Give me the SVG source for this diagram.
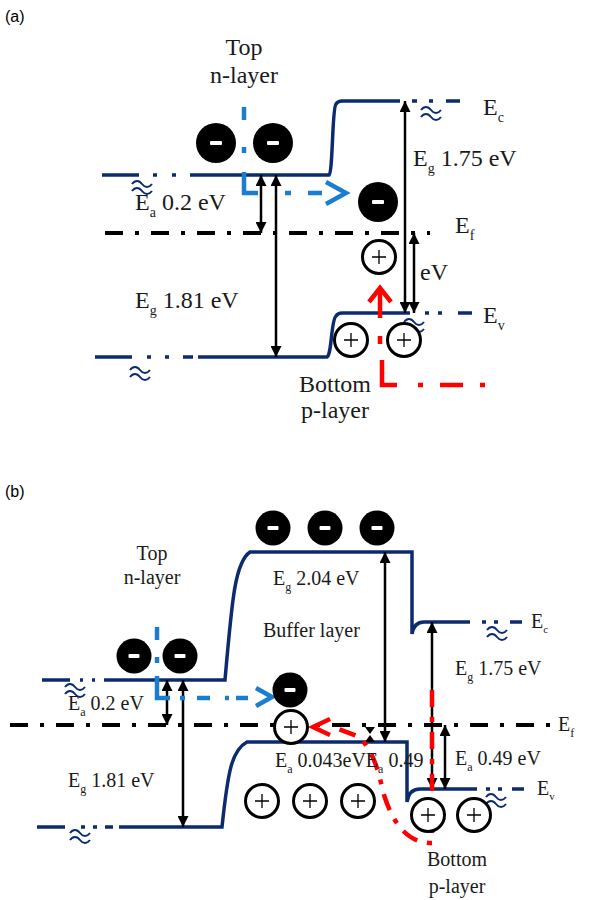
<svg xmlns="http://www.w3.org/2000/svg" xmlns:xlink="http://www.w3.org/1999/xlink" width="589" height="900" viewBox="0 0 589 900">
<style>
.band{fill:none;stroke:#0b2b6e;stroke-width:3.5}
.brk{fill:none;stroke:#0b2b6e;stroke-width:2}
.ef{fill:none;stroke:#000;stroke-width:4;stroke-dasharray:18 12 4 12}
.arr{fill:none;stroke:#000;stroke-width:2.5;marker-start:url(#ah);marker-end:url(#ah)}
.blue{fill:none;stroke:#1b7dd0;stroke-width:4.5}
.red{fill:none;stroke:#ff0000;stroke-width:4.5}
.ta{font-family:"Liberation Serif","Times New Roman",serif;font-size:24px;fill:#1a1a1a}
.tb{font-family:"Liberation Serif","Times New Roman",serif;font-size:20px;fill:#1a1a1a}
.lab{font-family:"Liberation Sans",Arial,sans-serif;font-size:16px;fill:#000}
.mid{text-anchor:middle}
</style>
<defs>
<marker id="ah" viewBox="0 0 10 10" refX="10" refY="5" markerWidth="11" markerHeight="11" markerUnits="userSpaceOnUse" orient="auto-start-reverse"><path d="M0,0 L10,5 L0,10 z" fill="#000"/></marker>
<g id="wave"><path class="brk" d="M-10,-2 c3,-4 7,-4 10,0 s7,4 10,0 M-10,5 c3,-4 7,-4 10,0 s7,4 10,0"/></g>
<g id="el"><circle r="20" fill="#000"/><rect x="-6" y="-2" width="12" height="4" rx="1" fill="#fff"/></g>
<g id="elb"><circle r="17.5" fill="#000"/><rect x="-5.5" y="-2" width="11" height="4" rx="1" fill="#fff"/></g>
<g id="ho"><circle r="16.5" fill="#fff" stroke="#000" stroke-width="3"/><path d="M-7,0 H7 M0,-7 V7" stroke="#000" stroke-width="1.3"/></g>
</defs>

<text class="lab" x="5" y="22">(a)</text>
<text class="lab" x="5" y="497">(b)</text>

<!-- Panel (a) bands -->
<g id="a-bands">
<path class="band" d="M102,175 H139 M153,175 H157 M172,175 H176 M190,175 H329 C333,172 332,108 336,104 Q338,101 342,101 H400 M412,101 H417 M429,101 H433 M446,101 H460"/>
<path class="band" d="M95,357 H132 M147,357 H151 M165,357 H169 M183,357 H193 M198,357 H327 C332,354 331,320 336,316 Q338,313 342,313 H410 M425,313 H429 M438,313 H442 M458,313 H472"/>
<path class="ef" d="M105,233 H430"/>
<use xlink:href="#wave" x="142" y="186"/>
<use xlink:href="#wave" x="431" y="112"/>
<use xlink:href="#wave" x="140" y="372"/>
<use xlink:href="#wave" x="414" y="324"/>
</g>

<g id="a-connectors">
<path class="arr" d="M261,175 V233"/>
<path class="arr" d="M276,175 V357"/>
<path class="arr" d="M405,101 V313"/>
<path class="arr" d="M414,233 V313"/>
<path class="blue" d="M244,107 V120 M244,147 V153 M244,172 V193 H258 M285,193 H291 M308,193 H322"/>
<path class="blue" d="M326,182 L346,193 L326,204" stroke-linejoin="miter"/>
<path class="red" d="M380,318 V292"/>
<path class="red" d="M369,302 L380,288 L391,302"/>
<path class="red" d="M380,336 V344"/>
<path class="red" d="M382,360 V385 H397 M418,385 H423 M440,385 H463 M480,385 H485"/>
</g>

<g id="a-e1"><use xlink:href="#el" x="216" y="143"/></g>
<g id="a-e2"><use xlink:href="#el" x="273" y="143"/></g>
<g id="a-e3"><use xlink:href="#el" x="378" y="202"/></g>
<g id="a-h1"><use xlink:href="#ho" x="379" y="257"/></g>
<g id="a-h2"><use xlink:href="#ho" x="351" y="340"/></g>
<g id="a-h3"><use xlink:href="#ho" x="404" y="340"/></g>

<g id="a-labels">
<text class="ta mid" x="244" y="55">Top</text>
<text class="ta mid" x="244" y="83">n-layer</text>
<text class="ta" x="135" y="210">E<tspan font-size="14" dy="7">a</tspan><tspan dy="-7"> 0.2 eV</tspan></text>
<text class="ta" x="135" y="308">E<tspan font-size="14" dy="7">g</tspan><tspan dy="-7"> 1.81 eV</tspan></text>
<text class="ta" x="413" y="166">E<tspan font-size="14" dy="7">g</tspan><tspan dy="-7"> 1.75 eV</tspan></text>
<text class="ta" x="483" y="115">E<tspan font-size="14" dy="7">c</tspan></text>
<text class="ta" x="455" y="233">E<tspan font-size="14" dy="7">f</tspan></text>
<text class="ta" x="483" y="323">E<tspan font-size="14" dy="7">v</tspan></text>
<text class="ta" x="420" y="280">eV</text>
<text class="ta mid" x="335" y="392">Bottom</text>
<text class="ta mid" x="335" y="418">p-layer</text>
</g>

<!-- Panel (b) bands -->
<g id="b-bands">
<path class="band" d="M42,680 H70 M80,680 H83 M92,680 H95 M104,680 H225 C232,600 235,562 250,552 H412 V634 Q414,622 424,622 H470 M482,622 H486 M494,622 H498 M510,622 H522"/>
<path class="band" d="M37,827 H65 M81,827 H85 M93,827 H97 M105,827 H113 M119,827 H222 C228,770 232,750 247,742 H407 V802 Q409,789 420,789 H477 M486,789 H490 M498,789 H502 M512,789 H524"/>
<path class="ef" d="M10,725 H552"/>
<use xlink:href="#wave" x="75" y="689"/>
<use xlink:href="#wave" x="497" y="632"/>
<use xlink:href="#wave" x="80" y="835"/>
<use xlink:href="#wave" x="496" y="799"/>
</g>

<g id="b-connectors">
<path class="arr" d="M167,680 V725"/>
<path class="arr" d="M183,680 V827"/>
<path class="arr" d="M385,552 V742"/>
<path class="arr" d="M432,622 V789"/>
<path class="arr" d="M445,725 V789"/>
<path d="M365,727 H375 L370,734 Z M365,742 H375 L370,735 Z" fill="#000"/>
<path class="blue" d="M157,627 V640 M157,657 V663 M157,676 V698 H170 M180,698 H185 M197,698 H210 M225,698 H229 M236,698 H248"/>
<path class="blue" d="M256,688 L272,697 L256,706" stroke-linejoin="miter"/>
<path class="red" stroke-width="4" stroke-dasharray="17 10 5 10" d="M432,690 V843 C405,843 392,820 384,795 C378,770 373,748 357,736 L336,728"/>
<path class="red" d="M330,719 L313,727 L330,735" stroke-linejoin="miter"/>
</g>

<g id="b-e1"><use xlink:href="#elb" x="134" y="656"/></g>
<g id="b-e2"><use xlink:href="#elb" x="180" y="656"/></g>
<g id="b-e3"><use xlink:href="#elb" x="273" y="528"/></g>
<g id="b-e4"><use xlink:href="#elb" x="325" y="528"/></g>
<g id="b-e5"><use xlink:href="#elb" x="377" y="528"/></g>
<g id="b-e6"><use xlink:href="#elb" x="290" y="690"/></g>
<g id="b-h1"><use xlink:href="#ho" x="291" y="727"/></g>
<g id="b-h2"><use xlink:href="#ho" x="262" y="801"/></g>
<g id="b-h3"><use xlink:href="#ho" x="310" y="801"/></g>
<g id="b-h4"><use xlink:href="#ho" x="358" y="801"/></g>
<g id="b-h5"><use xlink:href="#ho" x="428" y="815"/></g>
<g id="b-h6"><use xlink:href="#ho" x="474" y="815"/></g>

<g id="b-labels">
<text class="tb mid" x="152" y="560">Top</text>
<text class="tb mid" x="152" y="584">n-layer</text>
<text class="tb" x="273" y="585">E<tspan font-size="12" dy="6">g</tspan><tspan dy="-6"> 2.04 eV</tspan></text>
<text class="tb" x="263" y="637">Buffer layer</text>
<text class="tb" x="68" y="710">E<tspan font-size="12" dy="6">a</tspan><tspan dy="-6"> 0.2 eV</tspan></text>
<text class="tb" x="68" y="787">E<tspan font-size="12" dy="6">g</tspan><tspan dy="-6"> 1.81 eV</tspan></text>
<text class="tb" x="275" y="767">E<tspan font-size="12" dy="6">a</tspan><tspan dy="-6"> 0.043eVE</tspan><tspan font-size="12" dy="6">a</tspan><tspan dy="-6"> 0.49</tspan></text>
<text class="tb" x="455" y="675">E<tspan font-size="12" dy="6">g</tspan><tspan dy="-6"> 1.75 eV</tspan></text>
<text class="tb" x="455" y="765">E<tspan font-size="12" dy="6">a</tspan><tspan dy="-6"> 0.49 eV</tspan></text>
<text class="tb" x="531" y="628" font-size="18">E<tspan font-size="11" dy="5">c</tspan></text>
<text class="tb" x="558" y="731">E<tspan font-size="12" dy="6">f</tspan></text>
<text class="tb" x="537" y="795" font-size="18">E<tspan font-size="11" dy="5">v</tspan></text>
<text class="tb mid" x="457" y="866">Bottom</text>
<text class="tb mid" x="457" y="893">p-layer</text>
</g>
</svg>
